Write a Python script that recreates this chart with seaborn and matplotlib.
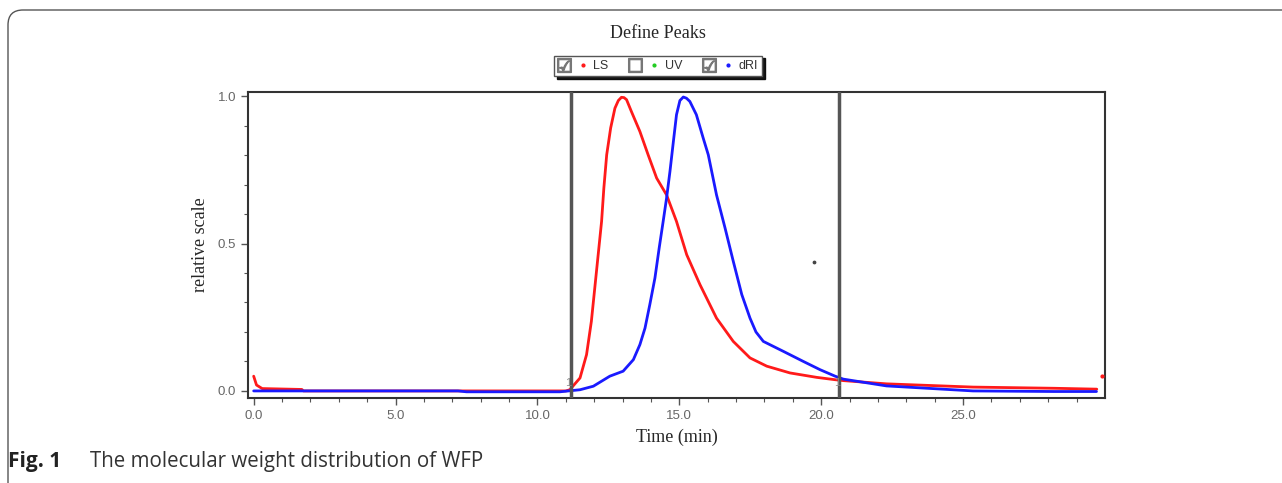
import numpy as np
import pandas as pd
import seaborn as sns
import matplotlib.pyplot as plt
from matplotlib.lines import Line2D
from matplotlib.patches import FancyBboxPatch
from matplotlib.legend_handler import HandlerTuple

# LS (light scattering) trace
ls_time = [0.0, 0.1, 0.3, 1.7, 1.75, 7.3, 11.0, 11.14, 11.5, 11.73, 11.9, 12.02, 12.14,
           12.26, 12.34, 12.44, 12.58, 12.73, 12.85, 12.96, 13.05, 13.14, 13.31, 13.61,
           13.9, 14.2, 14.55, 14.9, 15.26, 15.73, 16.31, 16.9, 17.49, 18.08, 18.9, 19.84,
           20.49, 20.78, 22.3, 25.35, 28.2, 29.71]
ls_value = [0.05, 0.02, 0.008, 0.005, 0.0, 0.0, 0.0, 0.004, 0.044, 0.123, 0.236, 0.349,
            0.462, 0.575, 0.688, 0.801, 0.892, 0.959, 0.985, 0.996, 0.995, 0.988, 0.948,
            0.880, 0.801, 0.722, 0.665, 0.575, 0.462, 0.36, 0.247, 0.168, 0.112, 0.084,
            0.061, 0.046, 0.038, 0.035, 0.024, 0.013, 0.009, 0.006]
ls_stray_time = [29.89]
ls_stray_value = [0.05]

# dRI trace
dri_time = [0.0, 7.2, 7.5, 10.79, 11.5, 11.97, 12.55, 13.02, 13.38, 13.61, 13.79, 13.96,
            14.14, 14.29, 14.43, 14.55, 14.67, 14.79, 14.9, 15.02, 15.14, 15.25, 15.37,
            15.6, 15.84, 16.02, 16.31, 16.61, 16.9, 17.2, 17.49, 17.7, 17.96, 18.67, 19.37,
            19.96, 20.49, 20.78, 22.3, 25.35, 28.2, 29.7]
dri_value = [0.0, 0.0, -0.003, -0.003, 0.004, 0.016, 0.05, 0.067, 0.106, 0.157, 0.213,
             0.293, 0.383, 0.485, 0.575, 0.654, 0.745, 0.846, 0.937, 0.985, 0.997, 0.993,
             0.982, 0.937, 0.858, 0.801, 0.665, 0.553, 0.44, 0.327, 0.247, 0.2, 0.168,
             0.134, 0.1, 0.072, 0.05, 0.04, 0.017, 0.0, -0.002, -0.002]

# peak limits
peak_limits = [11.18, 20.63]
stray_dot = (19.75, 0.437)

sns.set_style("white")
plt.rcParams['font.family'] = ['Liberation Serif', 'DejaVu Sans']

fig = plt.figure(figsize=(12.82, 4.83), dpi=100)
ax = fig.add_axes([248 / 1282, 1 - 398 / 483, (1105 - 248) / 1282, (398 - 92) / 483])

ls_df = pd.DataFrame({'t': ls_time, 'v': ls_value})
dri_df = pd.DataFrame({'t': dri_time, 'v': dri_value})
sns.lineplot(data=ls_df, x='t', y='v', color='#ff1a1a', lw=2, ax=ax, sort=False)
sns.lineplot(data=dri_df, x='t', y='v', color='#1a1aff', lw=2, ax=ax, sort=False)
ax.scatter(ls_stray_time, ls_stray_value, color='#ff1a1a', s=4, zorder=3)
ax.scatter([stray_dot[0]], [stray_dot[1]], color='#444444', s=3, zorder=3)

for x in peak_limits:
    ax.axvline(x, color='#555555', lw=2.5, zorder=4)
    ax.text(x - 0.08, 0.027, '1', color='#888888', fontsize=8, ha='center', va='center',
            family='Liberation Sans', zorder=5)

ax.set_xlim(-0.2, 30.0)
ax.set_ylim(-0.024, 1.014)
ax.set_xticks([0, 5, 10, 15, 20, 25])
ax.set_xticklabels(['0.0', '5.0', '10.0', '15.0', '20.0', '25.0'])
ax.set_xticks(np.arange(0, 30, 1), minor=True)
ax.set_yticks([0.0, 0.5, 1.0])
ax.set_yticklabels(['0.0', '0.5', '1.0'])
ax.set_yticks(np.arange(0, 1.01, 0.1), minor=True)
ax.tick_params(which='both', direction='out', color='#555555', bottom=True, left=True)
ax.tick_params(which='major', length=5, width=1, labelsize=9.5, labelcolor='#666666')
ax.tick_params(which='minor', length=3, width=0.8)
for lab in ax.get_xticklabels() + ax.get_yticklabels():
    lab.set_family('Liberation Sans')
for sp in ax.spines.values():
    sp.set_color('#333333')
    sp.set_linewidth(1.5)

ax.set_xlabel('Time (min)', fontsize=13, labelpad=5)
ax.set_ylabel('relative scale', fontsize=13, labelpad=6)

fig.text(658 / 1282, 1 - 33 / 483, 'Define Peaks', fontsize=13, ha='center', va='center')

checked = Line2D([], [], ls='none', marker='$\u2611$', color='#777777', markersize=10)
unchecked = Line2D([], [], ls='none', marker='$\u2610$', color='#777777', markersize=10)
handles = [
    (checked, Line2D([], [], ls='none', marker='.', color='#ff1a1a', markersize=4)),
    (unchecked, Line2D([], [], ls='none', marker='.', color='#22cc22', markersize=4)),
    (checked, Line2D([], [], ls='none', marker='.', color='#1a1aff', markersize=4)),
]
leg = fig.legend(handles, ['LS', 'UV', 'dRI'], ncol=3, loc='center',
                 bbox_to_anchor=(658 / 1282, 1 - 66 / 483),
                 handler_map={tuple: HandlerTuple(ndivide=None, pad=0.6)},
                 prop={'family': 'Liberation Sans', 'size': 9}, fancybox=False,
                 shadow={'color': 'black', 'alpha': 0.9},
                 edgecolor='#555555', handlelength=2.4, handletextpad=0.4, columnspacing=1.7,
                 borderpad=0.35)
for t in leg.get_texts():
    t.set_color('#333333')

# outer frame with a rounded top-left corner
frame = FancyBboxPatch((0.08, -1.0), 20, 4.73 + 1.0, boxstyle='round,pad=0,rounding_size=0.15',
                       transform=fig.dpi_scale_trans, fill=False, edgecolor='#555555', lw=1)
fig.patches.append(frame)

fig.text(8 / 1282, 1 - 462 / 483, 'Fig. 1', fontsize=15, fontweight='bold',
         family='Open Sans', color='#222222', va='center', ha='left')
fig.text(90 / 1282, 1 - 462 / 483, 'The molecular weight distribution of WFP', fontsize=14.8,
         family='Open Sans', color='#333333', va='center', ha='left')

fig.savefig('out.png', dpi=100)
